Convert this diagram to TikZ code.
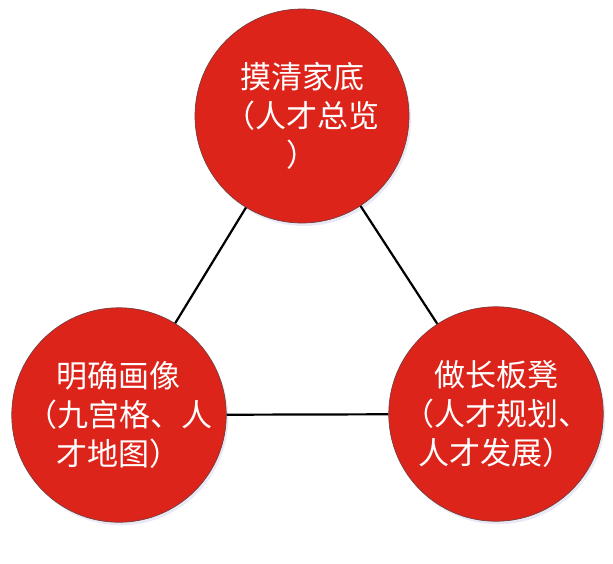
\documentclass[tikz,border=0pt]{standalone}
\usepackage{fontspec}
\setmainfont{Noto Sans CJK SC}
\usetikzlibrary{shadows}
\definecolor{cred}{RGB}{221,36,27}
\definecolor{cborder}{RGB}{120,60,60}
\begin{document}
\begin{tikzpicture}[x=1pt,y=-1pt,
  circ/.style={circle, fill=cred, draw=cborder, line width=0.7pt,
    minimum size=214pt, inner sep=0pt, align=center, text=white,
    font=\fontsize{31}{39}\selectfont,
    drop shadow={shadow xshift=2pt, shadow yshift=-3pt, opacity=0.12, fill=blue!40!gray}},
  link/.style={line width=2.2pt, black}]
\useasboundingbox (0,0) rectangle (613,563);
\node[circ] (top) at (302,116) {摸清家底\\（人才总览\\）};
\node[circ] (left) at (119,415) {明确画像\\（九宫格、人\\才地图）};
\node[circ] (right) at (496,414) {做长板凳\\（人才规划、\\人才发展）};
\draw[link] (top) -- (left);
\draw[link] (top) -- (right);
\draw[link] (left) -- (right);
\end{tikzpicture}
\end{document}
